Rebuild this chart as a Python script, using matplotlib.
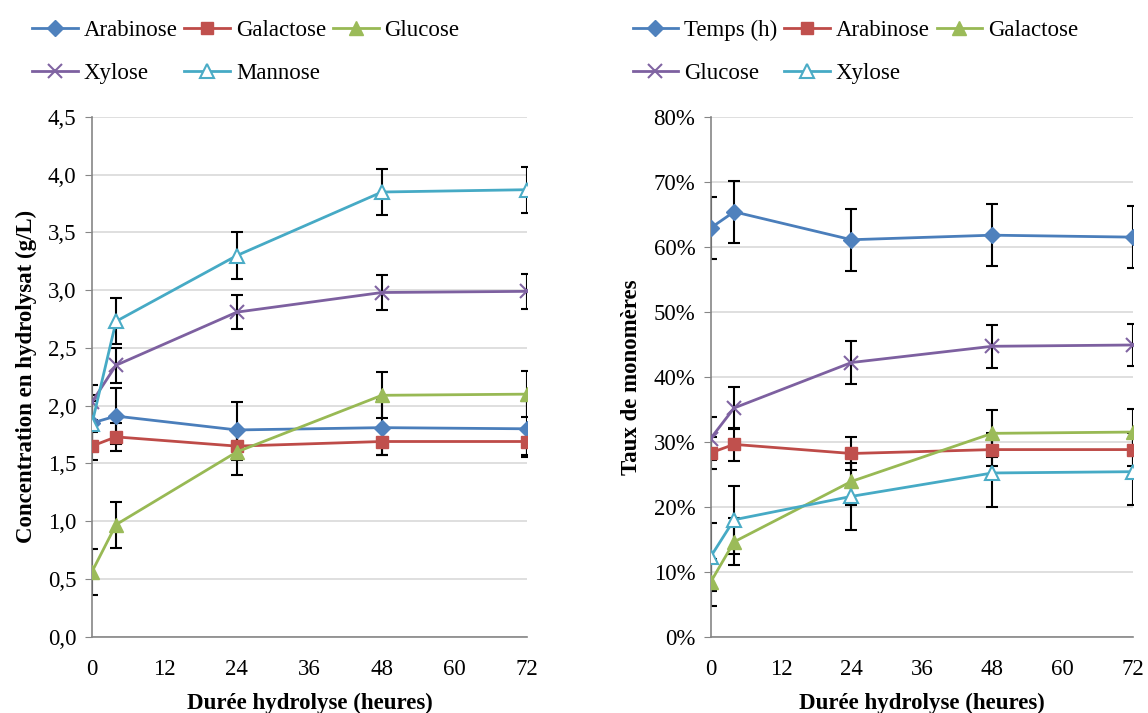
import numpy as np
import matplotlib
matplotlib.use('Agg')
import matplotlib.pyplot as plt
from matplotlib.ticker import PercentFormatter, FuncFormatter

plt.rcParams['font.family'] = ['Liberation Serif', 'DejaVu Serif']

times = [0, 4, 24, 48, 72]
x_ticks = [0, 12, 24, 36, 48, 60, 72]

# left chart: concentration (g/L)
arabinose = [1.85, 1.91, 1.79, 1.81, 1.80]
galactose = [1.65, 1.73, 1.65, 1.69, 1.69]
glucose = [0.56, 0.97, 1.60, 2.09, 2.10]
xylose = [2.03, 2.35, 2.81, 2.98, 2.99]
mannose = [1.84, 2.73, 3.30, 3.85, 3.87]
err_left = [0.24, 0.12, 0.20, 0.15, 0.20]
names_left = ['Arabinose', 'Galactose', 'Glucose', 'Xylose', 'Mannose']

# right chart: taux de monomeres (%)
temps_r = [62.9, 65.4, 61.1, 61.8, 61.5]
arabinose_r = [28.3, 29.6, 28.2, 28.8, 28.8]
galactose_r = [8.4, 14.6, 23.9, 31.3, 31.5]
glucose_r = [30.5, 35.2, 42.2, 44.7, 44.9]
xylose_r = [12.3, 18.0, 21.6, 25.2, 25.4]
err_right = [4.8, 2.5, 3.6, 3.3, 5.2]
names_right = ['Temps (h)', 'Arabinose', 'Galactose', 'Glucose', 'Xylose']

styles = [
    dict(color='#4A7EBB', marker='D', mfc='#4F81BD', mec='#4F81BD', ms=8),
    dict(color='#BE4B48', marker='s', mfc='#C0504D', mec='#C0504D', ms=9),
    dict(color='#98B954', marker='^', mfc='#9BBB59', mec='#9BBB59', ms=10),
    dict(color='#7D60A0', marker='x', mfc='#8064A2', mec='#8064A2', ms=10, mew=1.5),
    dict(color='#46AAC5', marker='^', mfc='white', mec='#4BACC6', ms=10, mew=1.5),
]

FS = 16.5

fig = plt.figure(figsize=(11.48, 7.13), dpi=100)
ax1 = fig.add_axes([0.080, 0.107, 0.379, 0.729])
ax2 = fig.add_axes([0.619, 0.107, 0.368, 0.729])


def draw(ax, series, errs, names):
    handles = []
    for vals, e in zip(series, errs):
        ax.errorbar(times, vals, yerr=e, fmt='none', ecolor='black',
                    elinewidth=1.5, capsize=4, capthick=1.5, zorder=2)
    for vals, st, name in zip(series, styles, names):
        h, = ax.plot(times, vals, lw=2, label=name, zorder=3, **st)
        handles.append(h)
    ax.set_xlim(0, 72)
    ax.set_xticks(x_ticks)
    ax.grid(axis='y', color='#D9D9D9', lw=1.2)
    ax.set_axisbelow(True)
    for s in ['top', 'right']:
        ax.spines[s].set_visible(False)
    for s in ['left', 'bottom']:
        ax.spines[s].set_color('#868686')
        ax.spines[s].set_linewidth(1.2)
    ax.tick_params(axis='y', direction='out', length=5, color='#868686', labelsize=FS, pad=6)
    ax.tick_params(axis='x', length=0, labelsize=FS, pad=16)
    ax.set_xlabel('Durée hydrolyse (heures)', fontsize=FS, fontweight='bold', labelpad=9)
    # legend order so that ncol=3 fills row by row
    return [handles[i] for i in (0, 3, 1, 4, 2)]


h1 = draw(ax1, [arabinose, galactose, glucose, xylose, mannose], err_left, names_left)
ax1.set_ylim(0, 4.5)
ax1.set_yticks(np.arange(0, 4.51, 0.5))
ax1.yaxis.set_major_formatter(FuncFormatter(lambda v, p: f'{v:.1f}'.replace('.', ',')))
ax1.set_ylabel('Concentration en hydrolysat (g/L)', fontsize=FS, fontweight='bold', labelpad=8)

h2 = draw(ax2, [temps_r, arabinose_r, galactose_r, glucose_r, xylose_r], err_right, names_right)
ax2.set_ylim(0, 80)
ax2.set_yticks(np.arange(0, 81, 10))
ax2.yaxis.set_major_formatter(PercentFormatter(decimals=0))
ax2.set_ylabel('Taux de monomères', fontsize=FS, fontweight='bold', labelpad=8)

leg_kw = dict(ncol=3, frameon=False, fontsize=FS, handlelength=2.0, handletextpad=0.25,
              columnspacing=0.3, labelspacing=0.95, borderaxespad=0, borderpad=0)
fig.legend(handles=h1, loc='upper left', bbox_to_anchor=(0.028, 0.972), **leg_kw)
fig.legend(handles=h2, loc='upper left', bbox_to_anchor=(0.551, 0.972), **leg_kw)

fig.savefig('out.png', dpi=100)
